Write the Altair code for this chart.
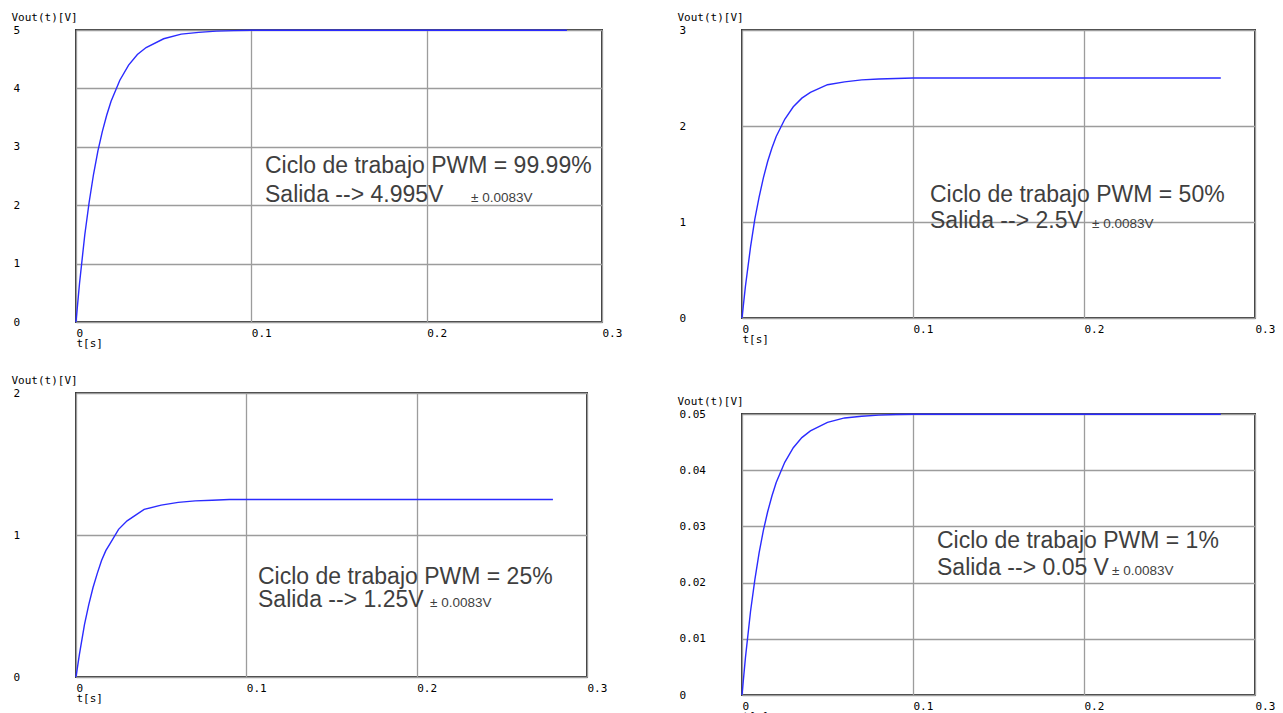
import altair as alt
import pandas as pd

# time samples [s]
t_s = [0, 0.002, 0.005, 0.0075, 0.01, 0.0125, 0.015, 0.0175, 0.02, 0.025, 0.03,
       0.035, 0.04, 0.05, 0.06, 0.07, 0.08, 0.09, 0.1, 0.15, 0.2, 0.25, 0.28]

# Vout(t) [V]
v_9999 = [0, 0.66, 1.49, 2.05, 2.53, 2.93, 3.26, 3.54, 3.78, 4.14, 4.40,
          4.58, 4.70, 4.85, 4.93, 4.96, 4.98, 4.99, 4.995, 4.995, 4.995, 4.995, 4.995]
v_50 = [0, 0.33, 0.74, 1.03, 1.26, 1.46, 1.63, 1.77, 1.89, 2.07, 2.20,
        2.29, 2.35, 2.43, 2.46, 2.48, 2.49, 2.495, 2.5, 2.5, 2.5, 2.5, 2.5]
v_25 = [0, 0.16, 0.37, 0.51, 0.63, 0.73, 0.82, 0.89, 0.94, 1.04, 1.10,
        1.14, 1.18, 1.21, 1.23, 1.24, 1.245, 1.25, 1.25, 1.25, 1.25, 1.25, 1.25]
v_1 = [0, 0.0066, 0.0149, 0.0205, 0.0253, 0.0293, 0.0326, 0.0354, 0.0378, 0.0414, 0.0440,
       0.0458, 0.0470, 0.0485, 0.0493, 0.0496, 0.0498, 0.0499, 0.04995, 0.04995, 0.04995, 0.04995, 0.04995]

x_ticks = [0, 0.1, 0.2, 0.3]
y_ticks_1 = [0, 1, 2, 3, 4, 5]
y_ticks_2 = [0, 1, 2, 3]
y_ticks_3 = [0, 1, 2]
y_ticks_4 = [0, 0.01, 0.02, 0.03, 0.04, 0.05]

texts_1 = ["Ciclo de trabajo PWM = 99.99%", "Salida --> 4.995V", "± 0.0083V"]
texts_2 = ["Ciclo de trabajo PWM = 50%", "Salida --> 2.5V", "± 0.0083V"]
texts_3 = ["Ciclo de trabajo PWM = 25%", "Salida --> 1.25V", "± 0.0083V"]
texts_4 = ["Ciclo de trabajo PWM = 1%", "Salida --> 0.05 V", "± 0.0083V"]

MONO = "DejaVu Sans Mono"
SANS = "Liberation Sans"
GRID = "#9c9c9c"
TXT = "#3f3f3f"


def panel(values, ymax, yticks, w, h, texts, tx, ty1, ty2, px):
    df = pd.DataFrame({"t": t_s, "v": values})
    line = alt.Chart(df).mark_line(color="#2b2bff", strokeWidth=1.4).encode(
        x=alt.X("t:Q",
                scale=alt.Scale(domain=[0, 0.3], nice=False, zero=False),
                axis=alt.Axis(values=x_ticks, format="~g", title="t[s]",
                              grid=True, gridColor=GRID, gridWidth=1.3, gridOpacity=1,
                              domain=False, ticks=False,
                              labelAlign="left", labelBaseline="top", labelPadding=5,
                              labelFlush=False, labelOverlap=False, labelBound=False,
                              labelFont=MONO, labelFontSize=11, labelColor="black",
                              titleFont=MONO, titleFontSize=11, titleFontWeight="normal",
                              titleColor="black", titleAngle=0, titleAlign="left",
                              titleBaseline="middle", titleX=0, titleY=21)),
        y=alt.Y("v:Q",
                scale=alt.Scale(domain=[0, ymax], nice=False, zero=True),
                axis=alt.Axis(values=yticks, format="~g", title="Vout(t)[V]",
                              grid=True, gridColor=GRID, gridWidth=1.3, gridOpacity=1,
                              domain=False, ticks=False,
                              labelAlign="left", labelBaseline="middle", labelPadding=63,
                              labelFlush=False, labelOverlap=False, labelBound=False,
                              labelFont=MONO, labelFontSize=11, labelColor="black",
                              titleFont=MONO, titleFontSize=11, titleFontWeight="normal",
                              titleColor="black", titleAngle=0, titleAlign="left",
                              titleBaseline="middle", titleX=-65, titleY=-13)),
    )

    def txt(s, x, y, size):
        return alt.Chart(pd.DataFrame({"s": [s]})).mark_text(
            font=SANS, fontSize=size, color=TXT, align="left", baseline="alphabetic"
        ).encode(text="s:N", x=alt.value(x), y=alt.value(y))

    return alt.layer(
        line,
        txt(texts[0], tx, ty1, 23),
        txt(texts[1], tx, ty2, 23),
        txt(texts[2], px, ty2, 13.5),
    ).properties(width=w, height=h)


p1 = panel(v_9999, 5, y_ticks_1, 526, 292, texts_1, 189, 143, 172, 395)
p2 = panel(v_50, 3, y_ticks_2, 513, 288, texts_2, 188, 172, 198, 350)
p3 = panel(v_25, 2, y_ticks_3, 511, 284, texts_3, 182, 191, 214, 354)
p4 = panel(v_1, 0.05, y_ticks_4, 513, 281, texts_4, 195, 134, 161, 370)

left = alt.vconcat(p1, p3, spacing=71, bounds="flush")
right = alt.vconcat(p2, p4, spacing=96, bounds="flush")

chart = alt.hconcat(left, right, spacing=53).properties(
    padding={"left": 10, "top": 10, "right": 0, "bottom": 0},
    background="white",
).configure_view(stroke="#383838", strokeWidth=2)

chart.save("out.html", embed_options={"renderer": "svg", "actions": False})
